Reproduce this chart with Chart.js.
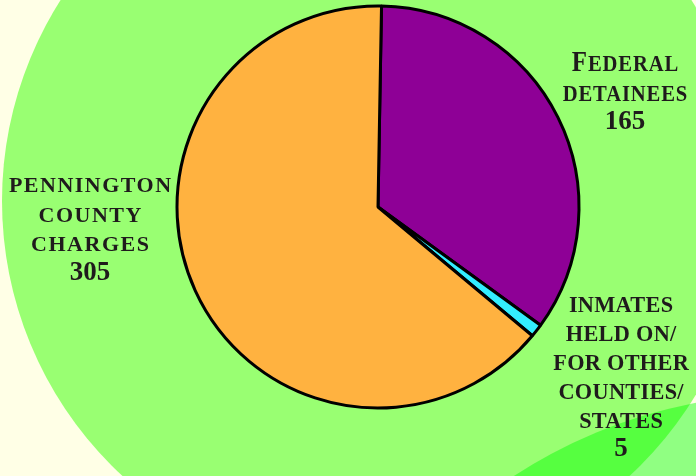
<!DOCTYPE html>
<html><head><meta charset="utf-8">
<script src="https://cdn.jsdelivr.net/npm/chart.js@4/dist/chart.umd.min.js"></script>
<style>html,body{margin:0;padding:0;background:#ffffe6;overflow:hidden}canvas{display:block}</style>
</head><body>
<canvas id="c" width="696" height="476"></canvas>
<script>
// ---- data ----
const categories = ['Federal detainees', 'Inmates held on/for other counties/states', 'Pennington County charges'];
const values = [165, 5, 305];
const labelLines = [
  ['Federal', 'detainees'],
  ['INMATES', 'HELD ON/', 'FOR OTHER', 'COUNTIES/', 'STATES'],
  ['PENNINGTON', 'COUNTY', 'CHARGES']
];
const sliceColors = ['#8e0096', '#33eeff', '#ffb240'];

// ---- layout / style (not data) ----
const labelLayout = [
  {x: 625, y: 71,  lh: 29.5, cap: 29, small: 24, num: 27, ls: 1, sx: 0.86},
  {x: 621, y: 312, lh: 29,   cap: 23, small: 18, num: 27, ls: 0.3, sx: 0.97},
  {x: 90,  y: 192, lh: 29.5, cap: 22, small: 17, num: 27, ls: 1.5, sx: 1}
];
const FONT = '"Liberation Serif", "Times New Roman", serif';
const TEXT_COLOR = '#1f1b1c';

const backgroundPlugin = {
  id: 'bgDeco',
  beforeDraw(chart) {
    const ctx = chart.ctx;
    ctx.save();
    ctx.fillStyle = '#ffffe6';
    ctx.fillRect(0, 0, chart.width, chart.height);
    ctx.fillStyle = '#99ff72';
    ctx.beginPath();
    ctx.arc(376, 201, 374, 0, Math.PI * 2);
    ctx.fill();
    ctx.fillStyle = 'rgba(0,255,0,0.435)';
    ctx.beginPath();
    ctx.arc(790, 900, 506, 0, Math.PI * 2);
    ctx.fill();
    ctx.restore();
  }
};

function drawMixedLine(ctx, text, cx, y, L) {
  // uppercase chars at cap size, lowercase drawn as small caps
  const runs = [];
  for (const ch of text) {
    const isLower = ch !== ch.toUpperCase();
    const size = isLower ? L.small : L.cap;
    const last = runs[runs.length - 1];
    if (last && last.size === size) last.t += ch.toUpperCase();
    else runs.push({t: ch.toUpperCase(), size});
  }
  ctx.letterSpacing = L.ls + 'px';
  let total = 0;
  for (const r of runs) {
    ctx.font = 'bold ' + r.size + 'px ' + FONT;
    r.w = ctx.measureText(r.t).width;
    total += r.w;
  }
  total -= L.ls;
  ctx.save();
  ctx.translate(cx, y);
  ctx.scale(L.sx, 1);
  let x = -total / 2;
  for (const r of runs) {
    ctx.font = 'bold ' + r.size + 'px ' + FONT;
    ctx.fillText(r.t, x, 0);
    x += r.w;
  }
  ctx.restore();
}

const labelPlugin = {
  id: 'sliceLabels',
  afterDraw(chart) {
    const ctx = chart.ctx;
    const ds = chart.data.datasets[0];
    ctx.save();
    ctx.fillStyle = TEXT_COLOR;
    ctx.textAlign = 'left';
    ctx.textBaseline = 'alphabetic';
    labelLines.forEach((lines, i) => {
      const L = labelLayout[i];
      lines.forEach((ln, k) => drawMixedLine(ctx, ln, L.x, L.y + k * L.lh, L));
      drawMixedLine(ctx, String(ds.data[i]), L.x, L.y + lines.length * L.lh - 1,
        Object.assign({}, L, {cap: L.num, small: L.num, ls: 0, sx: 1}));
    });
    ctx.restore();
  }
};

new Chart(document.getElementById('c'), {
  type: 'pie',
  data: {
    labels: categories,
    datasets: [{
      data: values,
      backgroundColor: sliceColors,
      borderColor: '#000000',
      borderWidth: 3,
      hoverOffset: 0,
      offset: 0
    }]
  },
  options: {
    responsive: false,
    animation: false,
    devicePixelRatio: 1,
    rotation: 1,
    radius: 201,
    layout: {padding: {left: 60, right: 0, top: 0, bottom: 62}},
    plugins: {legend: {display: false}, tooltip: {enabled: false}},
    events: []
  },
  plugins: [backgroundPlugin, labelPlugin]
});
</script>
</body></html>
